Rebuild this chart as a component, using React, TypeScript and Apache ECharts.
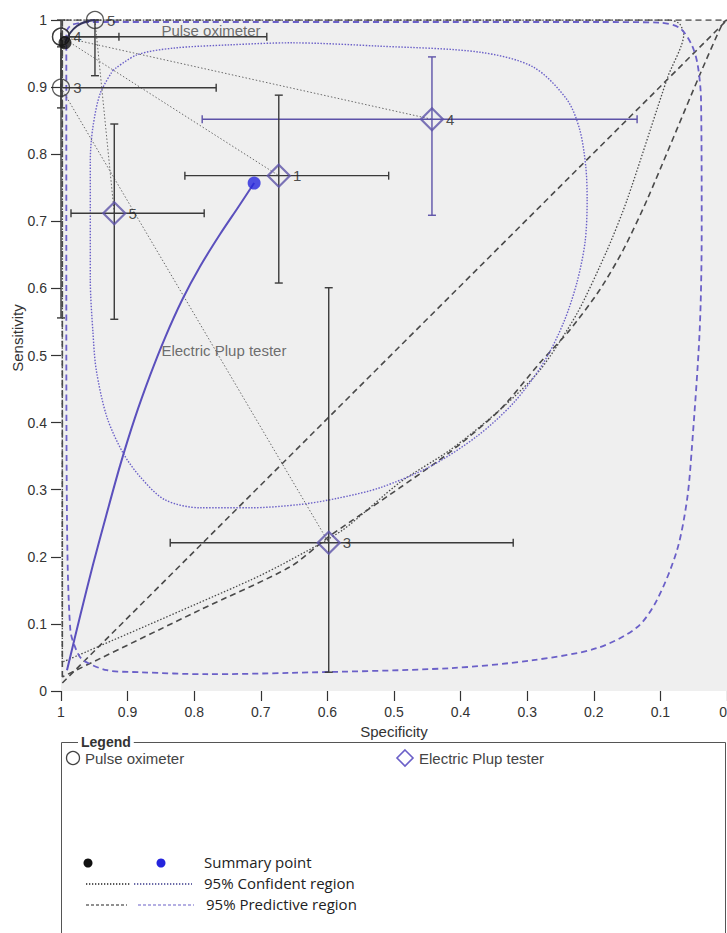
import React, { useEffect, useRef } from "react";
import * as echarts from "echarts";

// ---------- Data (specificity, sensitivity) ----------
// Pulse oximeter studies
const pulseIds = ["5", "4", "1", "3"];
const pulseSpec = [0.949, 1.0, 1.0, 1.0];
const pulseSens = [1.0, 0.975, 0.975, 0.899];
const pulseSpecLo = [NaN, 0.691, 0.913, 0.767];
const pulseSpecHi = [NaN, 1.0, 1.0, 1.0];
const pulseSensLo = [0.917, 0.869, NaN, 0.556];
const pulseSensHi = [1.0, 1.0, NaN, 0.96];
const pulseLabelShown = [true, true, false, true];

// Electric Plup tester studies
const elecIds = ["4", "1", "5", "3"];
const elecSpec = [0.443, 0.673, 0.92, 0.598];
const elecSens = [0.852, 0.768, 0.712, 0.221];
const elecSpecLo = [0.135, 0.508, 0.785, 0.321];
const elecSpecHi = [0.788, 0.814, 0.985, 0.836];
const elecSensLo = [0.709, 0.608, 0.554, 0.028];
const elecSensHi = [0.945, 0.888, 0.845, 0.601];
const elecPurpleBarIds = ["4"];

// Summary points
const pulseSummary: [number, number] = [0.994, 0.966];
const elecSummary: [number, number] = [0.71, 0.757];

// SROC curves
const elecSroc: [number, number][] = [
  [0.991, 0.031], [0.971, 0.113], [0.952, 0.188], [0.932, 0.262], [0.911, 0.337],
  [0.889, 0.407], [0.866, 0.471], [0.844, 0.526], [0.818, 0.583], [0.791, 0.633],
  [0.761, 0.681], [0.734, 0.721], [0.71, 0.757],
];
const pulseSroc: [number, number][] = [
  [0.994, 0.966], [0.986, 0.981], [0.976, 0.991], [0.964, 0.997], [0.949, 1.0],
];

// 95% confidence region, Electric Plup tester
const elecConf: [number, number][] = [
  [0.922, 0.925], [0.886, 0.948], [0.832, 0.958], [0.746, 0.963], [0.656, 0.966],
  [0.521, 0.961], [0.371, 0.952], [0.291, 0.93], [0.24, 0.881], [0.221, 0.836],
  [0.212, 0.781], [0.21, 0.732], [0.213, 0.67], [0.225, 0.61], [0.245, 0.55],
  [0.275, 0.49], [0.32, 0.43], [0.375, 0.38], [0.445, 0.335], [0.521, 0.303],
  [0.586, 0.287], [0.641, 0.278], [0.716, 0.273], [0.791, 0.273], [0.844, 0.285],
  [0.881, 0.319], [0.907, 0.355], [0.931, 0.408], [0.947, 0.478], [0.952, 0.534],
  [0.956, 0.613], [0.956, 0.717], [0.956, 0.791], [0.952, 0.841], [0.941, 0.891],
  [0.922, 0.925],
];

// 95% predictive region, Electric Plup tester
const elecPred: [number, number][] = [
  [0.992, 0.978], [0.992, 0.881], [0.992, 0.583], [0.991, 0.255], [0.986, 0.091],
  [0.977, 0.061], [0.967, 0.046], [0.931, 0.031], [0.881, 0.028], [0.781, 0.025],
  [0.656, 0.027], [0.416, 0.034], [0.291, 0.046], [0.195, 0.064], [0.135, 0.095],
  [0.105, 0.136], [0.075, 0.21], [0.06, 0.285], [0.053, 0.359], [0.041, 0.538],
  [0.038, 0.687], [0.039, 0.881], [0.044, 0.933], [0.053, 0.963], [0.071, 0.988],
  [0.101, 0.996], [0.191, 0.997], [0.491, 0.997], [0.791, 0.997], [0.956, 0.997],
  [0.983, 0.993], [0.991, 0.985], [0.992, 0.978],
];

// 95% confidence region, Pulse oximeter
const pulseConf: [number, number][] = [
  [0.998, 0.043], [0.998, 0.5], [0.998, 1.0], [0.5, 1.0], [0.086, 1.0],
  [0.071, 0.994], [0.065, 0.978], [0.089, 0.915], [0.15, 0.732], [0.18, 0.657],
  [0.225, 0.563], [0.281, 0.478], [0.341, 0.419], [0.416, 0.359], [0.491, 0.311],
  [0.577, 0.24], [0.656, 0.195], [0.716, 0.165], [0.998, 0.043],
];

// 95% predictive region, Pulse oximeter
const pulsePred: [number, number][] = [
  [0.998, 0.021], [0.998, 0.5], [0.998, 1.0], [0.5, 1.0], [0.0, 1.0],
  [0.006, 0.996], [0.041, 0.918], [0.12, 0.732], [0.156, 0.657], [0.191, 0.598],
  [0.236, 0.538], [0.281, 0.489], [0.341, 0.419], [0.416, 0.356], [0.491, 0.303],
  [0.566, 0.252], [0.598, 0.23], [0.656, 0.185], [0.791, 0.121], [0.998, 0.021],
];

const diagonal: [number, number][] = [[0.998, 0.012], [0.0, 1.0]];

// In-plot curve labels
const curveLabelNames = ["Pulse oximeter", "Electric Plup tester"];
const curveLabelAt: [number, number][] = [[0.85, 0.985], [0.85, 0.508]];

// ---------- Styles ----------
const FONT = '"Liberation Sans", Arial, sans-serif';
const BLACK = "#3a3a3a";
const PURPLE = "#5d52a8";
const PURPLE_LIGHT = "#6b60c8";
const BLUE = "#2525dd";

type Bar = [number, number, number, number, number];

function buildBars(
  spec: number[], sens: number[], sLo: number[], sHi: number[], eLo: number[], eHi: number[],
  colorIdx: number[]
): Bar[] {
  const out: Bar[] = [];
  spec.forEach((sp, i) => {
    if (!isNaN(sLo[i])) out.push([0, sLo[i], sHi[i], sens[i], colorIdx[i]]);
    if (!isNaN(eLo[i])) out.push([1, eLo[i], eHi[i], sp, colorIdx[i]]);
  });
  return out;
}

const pulseBars = buildBars(pulseSpec, pulseSens, pulseSpecLo, pulseSpecHi, pulseSensLo, pulseSensHi,
  pulseIds.map(() => 0));
const elecBars = buildBars(elecSpec, elecSens, elecSpecLo, elecSpecHi, elecSensLo, elecSensHi,
  elecIds.map((id) => (elecPurpleBarIds.includes(id) ? 1 : 0)));

const lineSeries = (name: string, data: [number, number][], color: string, type: any, width: number, z: number, smooth: number | boolean = 0.3) => ({
  type: "line",
  name,
  data,
  symbol: "none",
  showSymbol: false,
  smooth,
  z,
  silent: true,
  clip: true,
  lineStyle: { color, width, type },
});

const errorBarSeries = (name: string, data: Bar[]) => ({
  type: "custom",
  name,
  data,
  z: 4,
  silent: true,
  renderItem: (_params: any, api: any) => {
    const o = api.value(0);
    const lo = api.value(1);
    const hi = api.value(2);
    const f = api.value(3);
    const c = api.value(4);
    const stroke = c === 1 ? PURPLE : BLACK;
    const cap = 4;
    const style = { stroke, lineWidth: 1.4 };
    let p1: number[];
    let p2: number[];
    const children: any[] = [];
    if (o === 0) {
      p1 = api.coord([lo, f]);
      p2 = api.coord([hi, f]);
      children.push({ type: "line", shape: { x1: p1[0], y1: p1[1], x2: p2[0], y2: p2[1] }, style });
      children.push({ type: "line", shape: { x1: p1[0], y1: p1[1] - cap, x2: p1[0], y2: p1[1] + cap }, style });
      children.push({ type: "line", shape: { x1: p2[0], y1: p2[1] - cap, x2: p2[0], y2: p2[1] + cap }, style });
    } else {
      p1 = api.coord([f, lo]);
      p2 = api.coord([f, hi]);
      children.push({ type: "line", shape: { x1: p1[0], y1: p1[1], x2: p2[0], y2: p2[1] }, style });
      children.push({ type: "line", shape: { x1: p1[0] - cap, y1: p1[1], x2: p1[0] + cap, y2: p1[1] }, style });
      children.push({ type: "line", shape: { x1: p2[0] - cap, y1: p2[1], x2: p2[0] + cap, y2: p2[1] }, style });
    }
    return { type: "group", children };
  },
});

const linkSeries = pulseIds
  .map((id, i) => {
    const j = elecIds.indexOf(id);
    if (j < 0) return null;
    return lineSeries("link " + id, [[pulseSpec[i], pulseSens[i]], [elecSpec[j], elecSens[j]]], "#6a6a6a", [1.5, 2], 1, 2, false);
  })
  .filter(Boolean);

const axisCommon = {
  type: "value",
  min: 0,
  max: 1,
  interval: 0.1,
  axisLine: { show: false, onZero: false },
  axisTick: { show: true, length: 10, inside: false, lineStyle: { color: "#333", width: 1.2 } },
  axisLabel: { color: "#333", fontSize: 14, fontFamily: FONT, margin: 14 },
  splitLine: { show: false },
};

const option: any = {
  animation: false,
  backgroundColor: "#ffffff",
  textStyle: { fontFamily: FONT },
  grid: {
    left: 61, right: 0, top: 20, bottom: 242,
    show: true, backgroundColor: "#efefef", borderWidth: 0,
    containLabel: false, outerBoundsMode: "none",
  },
  xAxis: {
    ...axisCommon,
    position: "bottom",
    inverse: true,
    axisLabel: { ...axisCommon.axisLabel, alignMinLabel: "right" },
    name: "Specificity",
    nameLocation: "middle",
    nameGap: 28,
    nameTextStyle: { color: "#333", fontSize: 15, fontFamily: FONT },
  },
  yAxis: { ...axisCommon, position: "left" },
  series: [
    lineSeries("Pulse predictive region", pulsePred, "#4a4a4a", [6, 4], 1.6, 1, 0.25),
    lineSeries("Pulse confidence region", pulseConf, "#4a4a4a", [1.5, 1.8], 1.3, 1, 0.25),
    lineSeries("Diagonal", diagonal, "#4a4a4a", [6, 4], 1.6, 1, false),
    lineSeries("Electric predictive region", elecPred, PURPLE_LIGHT, [6, 4], 1.8, 1, 0.3),
    lineSeries("Electric confidence region", elecConf, PURPLE_LIGHT, [1.5, 1.5], 1.4, 1, 0.3),
    ...linkSeries,
    errorBarSeries("Pulse CI", pulseBars),
    errorBarSeries("Electric CI", elecBars),
    lineSeries("Electric SROC", elecSroc, "#5b50bd", "solid", 2, 5, 0.3),
    lineSeries("Pulse SROC", pulseSroc, "#34345e", "solid", 2, 5, 0.3),
    {
      type: "scatter",
      name: "Pulse oximeter",
      z: 6,
      silent: true,
      symbol: "circle",
      symbolSize: 17,
      itemStyle: { color: "rgba(0,0,0,0)", borderColor: "#333", borderWidth: 1.3 },
      data: pulseIds.map((id, i) => ({
        name: id,
        value: [pulseSpec[i], pulseSens[i]],
        label: { show: pulseLabelShown[i] },
      })),
      label: { show: true, position: "right", distance: 3, formatter: "{b}", color: "#222", fontSize: 15, fontFamily: FONT },
    },
    {
      type: "scatter",
      name: "Electric Plup tester",
      z: 6,
      silent: true,
      symbol: "diamond",
      symbolSize: 22,
      itemStyle: { color: "rgba(0,0,0,0)", borderColor: PURPLE, borderWidth: 2.2 },
      data: elecIds.map((id, i) => ({ name: id, value: [elecSpec[i], elecSens[i]] })),
      label: { show: true, position: "right", distance: 2, formatter: "{b}", color: "#222", fontSize: 15, fontFamily: FONT },
    },
    {
      type: "scatter",
      name: "Summary",
      z: 7,
      silent: true,
      symbol: "circle",
      symbolSize: 13,
      data: [
        { value: pulseSummary, itemStyle: { color: "#111" } },
        { value: elecSummary, itemStyle: { color: BLUE } },
      ],
    },
    {
      type: "scatter",
      name: "Curve labels",
      z: 3,
      silent: true,
      symbolSize: 1,
      itemStyle: { color: "rgba(0,0,0,0)" },
      data: curveLabelNames.map((n, i) => ({ name: n, value: curveLabelAt[i] })),
      label: { show: true, position: "right", distance: 0, formatter: "{b}", color: "#4a4a4a", fontSize: 15, fontFamily: FONT },
    },
  ],
  graphic: [
    {
      type: "text", x: 17, y: 338, rotation: Math.PI / 2,
      style: { text: "Sensitivity", fill: "#333", fontSize: 15, fontFamily: FONT, align: "center", verticalAlign: "middle" },
    },
    { type: "rect", shape: { x: 61.5, y: 742.5, width: 664, height: 220 }, style: { fill: "none", stroke: "#555", lineWidth: 1 } },
    {
      type: "text", x: 78, y: 742,
      style: { text: "Legend", fill: "#333", fontSize: 14, fontWeight: "bold", fontFamily: FONT, verticalAlign: "middle", backgroundColor: "#fff", padding: [0, 3] },
    },
    { type: "circle", shape: { cx: 73, cy: 758, r: 6.5 }, style: { fill: "none", stroke: "#444", lineWidth: 1.3 } },
    { type: "text", x: 85, y: 758, style: { text: "Pulse oximeter", fill: "#444", fontSize: 15, fontFamily: FONT, verticalAlign: "middle" } },
    {
      type: "polygon", shape: { points: [[405, 750], [413, 758], [405, 766], [397, 758]] },
      style: { fill: "none", stroke: PURPLE_LIGHT, lineWidth: 1.6 },
    },
    { type: "text", x: 419, y: 758, style: { text: "Electric Plup tester", fill: "#444", fontSize: 15, fontFamily: FONT, verticalAlign: "middle" } },
    { type: "circle", shape: { cx: 88, cy: 863, r: 4.5 }, style: { fill: "#111" } },
    { type: "circle", shape: { cx: 161, cy: 863, r: 4.5 }, style: { fill: BLUE } },
    { type: "line", shape: { x1: 86, y1: 884, x2: 130, y2: 884 }, style: { stroke: "#222", lineWidth: 1.3, lineDash: [1.3, 1.7] } },
    { type: "line", shape: { x1: 134, y1: 884, x2: 192, y2: 884 }, style: { stroke: "#3a3a8a", lineWidth: 1.3, lineDash: [1.3, 1.7] } },
    { type: "line", shape: { x1: 86, y1: 905, x2: 127, y2: 905 }, style: { stroke: "#222", lineWidth: 1.2, lineDash: [3, 2] } },
    { type: "line", shape: { x1: 138, y1: 905, x2: 194, y2: 905 }, style: { stroke: PURPLE_LIGHT, lineWidth: 1.2, lineDash: [3, 2] } },
    { type: "text", x: 204, y: 862, style: { text: "Summary point", fill: "#222", fontSize: 15, fontFamily: '"Open Sans", sans-serif', verticalAlign: "middle" } },
    { type: "text", x: 204, y: 883, style: { text: "95% Confident region", fill: "#222", fontSize: 15, fontFamily: '"Open Sans", sans-serif', verticalAlign: "middle" } },
    { type: "text", x: 206, y: 904, style: { text: "95% Predictive region", fill: "#222", fontSize: 15, fontFamily: '"Open Sans", sans-serif', verticalAlign: "middle" } },
  ],
};

export default function App() {
  const ref = useRef<HTMLDivElement>(null);
  useEffect(() => {
    if (!ref.current) return;
    const chart = echarts.init(ref.current, null, { renderer: "svg" });
    chart.setOption(option);
    return () => chart.dispose();
  }, []);
  return (
    <div
      ref={ref}
      style={{ position: "absolute", left: 0, top: 0, width: 727, height: 933, background: "#fff" }}
    />
  );
}
